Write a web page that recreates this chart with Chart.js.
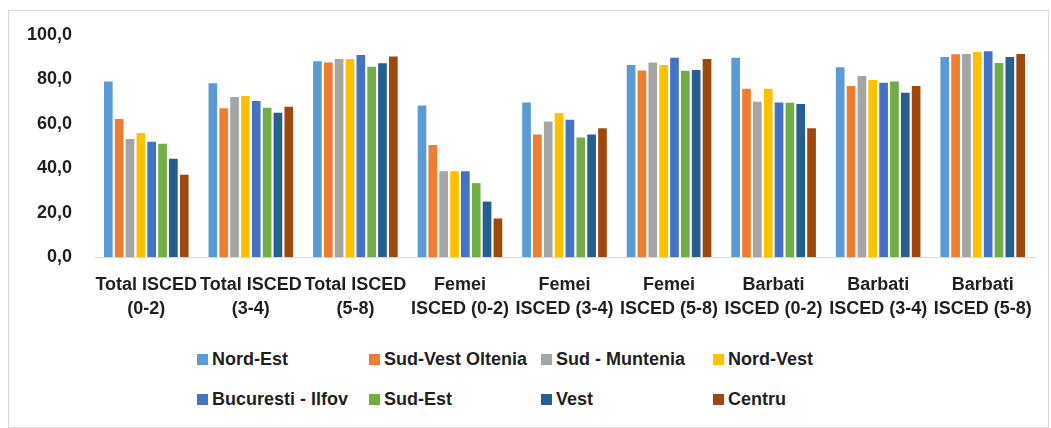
<!DOCTYPE html>
<html>
<head>
<meta charset="utf-8">
<script src="https://cdn.jsdelivr.net/npm/chart.js@4"></script>
<style>
  body { margin: 0; background: #fff; width: 1051px; height: 428px; overflow: hidden; position: relative; }
  .frame { position: absolute; left: 8px; top: 10px; width: 1039px; height: 416px; border: 1px solid #d9d9d9; }
  .chartBox { position: absolute; left: 0; top: 0; width: 1051px; height: 345px; }
  #legend { position: absolute; left: 197px; top: 347px; display: grid; grid-template-columns: repeat(4, 172px); row-gap: 16px; }
  .item { display: flex; align-items: center; height: 24px; font: bold 18px "Liberation Sans", Arial, sans-serif; color: #1f1f1f; white-space: nowrap; }
  .swatch { width: 11px; height: 11px; margin-right: 4px; }
</style>
</head>
<body>
<div class="frame"></div>
<div class="chartBox"><canvas id="barChart"></canvas></div>
<div id="legend"></div>
<script>
const categories = [
  ["Total ISCED", "(0-2)"],
  ["Total ISCED", "(3-4)"],
  ["Total ISCED", "(5-8)"],
  ["Femei", "ISCED (0-2)"],
  ["Femei", "ISCED (3-4)"],
  ["Femei", "ISCED (5-8)"],
  ["Barbati", "ISCED (0-2)"],
  ["Barbati", "ISCED (3-4)"],
  ["Barbati", "ISCED (5-8)"],
];

const regions = [
  "Nord-Est",
  "Sud-Vest Oltenia",
  "Sud - Muntenia",
  "Nord-Vest",
  "Bucuresti - Ilfov",
  "Sud-Est",
  "Vest",
  "Centru",
];

// values per region, one per category
const nordEst = [79.1, 78.3, 88.2, 68.3, 69.6, 86.5, 89.8, 85.5, 90.1];
const sudVestOltenia = [62.2, 67.0, 87.6, 50.5, 55.2, 84.0, 75.8, 77.0, 91.3];
const sudMuntenia = [53.2, 72.1, 89.2, 38.7, 61.1, 87.6, 70.0, 81.5, 91.5];
const nordVest = [55.9, 72.5, 89.2, 38.7, 64.9, 86.5, 75.8, 79.7, 92.4];
const bucurestiIlfov = [51.9, 70.3, 91.0, 38.7, 61.9, 89.8, 69.6, 78.5, 92.7];
const sudEst = [51.0, 67.3, 85.7, 33.3, 53.9, 83.9, 69.5, 79.1, 87.4];
const vest = [44.3, 65.0, 87.3, 25.0, 55.2, 84.2, 68.9, 74.0, 90.1];
const centru = [37.1, 67.7, 90.3, 17.4, 58.0, 89.2, 58.0, 77.0, 91.5];

const seriesValues = [nordEst, sudVestOltenia, sudMuntenia, nordVest, bucurestiIlfov, sudEst, vest, centru];
const colors = ["#5b9bd5", "#ed7d31", "#a5a5a5", "#ffc000", "#4472c4", "#70ad47", "#255e91", "#9e480e"];

const FONT = { family: '"Liberation Sans", Arial, sans-serif', size: 18, weight: "bold", lineHeight: 1.33 };
const TEXT_COLOR = "#1f1f1f";

const datasets = regions.map((name, i) => ({
  label: name,
  data: seriesValues[i],
  backgroundColor: colors[i],
  borderWidth: 0,
  categoryPercentage: 0.83,
  barPercentage: 0.8,
}));

const chart = new Chart(document.getElementById("barChart"), {
  type: "bar",
  data: { labels: categories, datasets: datasets },
  options: {
    responsive: true,
    maintainAspectRatio: false,
    animation: false,
    layout: { padding: { top: 35, right: 16, bottom: 8, left: 0 } },
    plugins: {
      legend: { display: false },
      tooltip: { enabled: false },
    },
    scales: {
      x: {
        grid: { display: false, drawTicks: false },
        border: { display: true, color: "#d9d9d9", width: 1 },
        ticks: {
          color: TEXT_COLOR,
          font: FONT,
          padding: 16,
          autoSkip: false,
          maxRotation: 0,
          minRotation: 0,
        },
      },
      y: {
        min: 0,
        max: 100,
        afterFit: function (scale) {
          scale.width = 94;
        },
        grid: { display: false, drawTicks: false },
        border: { display: false },
        ticks: {
          stepSize: 20,
          color: TEXT_COLOR,
          font: FONT,
          padding: 22,
          callback: function (value) {
            return value.toFixed(1).replace(".", ",");
          },
        },
      },
    },
  },
});

// HTML legend, 4 columns like the original
function renderLegend() {
  const box = document.getElementById("legend");
  box.innerHTML = regions
    .map(
      (name, i) => `
    <div class="item"><span class="swatch" style="background:${colors[i]}"></span>${name}</div>
  `
    )
    .join("");
}
renderLegend();
</script>
</body>
</html>
